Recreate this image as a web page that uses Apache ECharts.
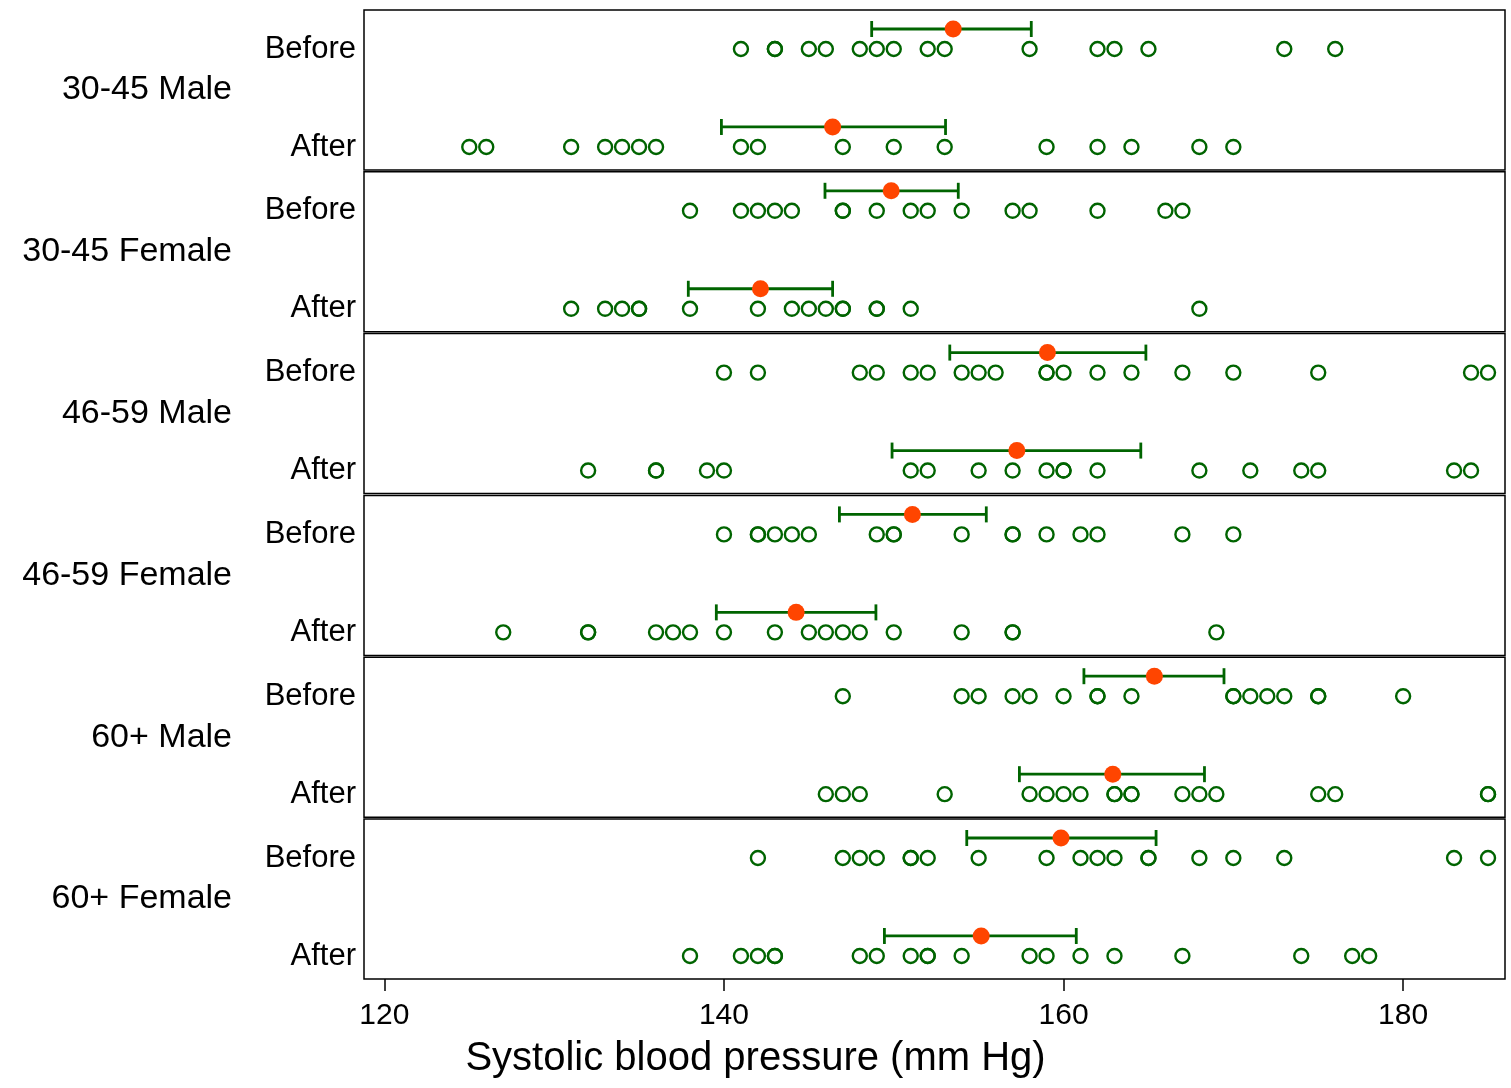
<!DOCTYPE html>
<html><head><meta charset="utf-8">
<script src="https://cdn.jsdelivr.net/npm/echarts@6/dist/echarts.min.js"></script>
<style>html,body{margin:0;padding:0;background:#fff}#c{width:1511px;height:1088px}</style>
</head><body><div id="c"></div>
<script>
// ---------- data ----------
const groups = ['30-45 Male', '30-45 Female', '46-59 Male', '46-59 Female', '60+ Male', '60+ Female'];
const rowLabels = ['After', 'Before'];
const xTicks = [120, 140, 160, 180];
const xTitle = 'Systolic blood pressure (mm Hg)';

const beforeVals = [
  [141,143,143,145,146,148,149,150,152,153,158,162,163,165,173,176],
  [138,141,142,143,144,147,147,149,151,152,154,157,158,162,166,167],
  [140,142,148,149,151,152,154,155,156,159,159,160,162,164,167,170,175,184,185],
  [140,142,142,143,144,145,149,150,150,154,157,157,159,161,162,167,170],
  [147,154,155,157,158,160,162,162,164,170,170,171,172,173,175,175,180],
  [142,147,148,149,151,151,152,155,159,161,162,163,165,165,168,170,173,183,185]
];
const afterVals = [
  [125,126,131,133,134,135,136,141,142,147,150,153,159,162,164,168,170],
  [131,133,134,135,135,138,142,144,145,146,147,147,149,149,151,168],
  [132,136,136,139,140,151,152,155,157,159,160,160,162,168,171,174,175,183,184],
  [127,132,132,136,137,138,140,143,145,146,147,148,150,154,157,157,169],
  [146,147,148,153,158,159,160,161,163,163,164,164,167,168,169,175,176,185,185],
  [138,141,142,143,143,148,149,151,152,152,154,158,159,161,163,167,174,177,178]
];
const beforeMean = [153.5, 149.85, 159.05, 151.1, 165.35, 159.85];
const beforeLo   = [148.7, 145.95, 153.3, 146.8, 161.2, 154.3];
const beforeHi   = [158.1, 153.8, 164.85, 155.45, 169.45, 165.45];
const afterMean  = [146.4, 142.15, 157.25, 144.25, 162.9, 155.15];
const afterLo    = [139.85, 137.9, 149.9, 139.55, 157.4, 149.45];
const afterHi    = [153.05, 146.4, 164.55, 148.95, 168.3, 160.75];

// ---------- layout ----------
const GREEN = '#006400', RED = '#FF4500';
const FONT = 'Liberation Sans, Arial, sans-serif';
const top0 = 10, step = 161.8, panelH = 160;
const X_MIN = 118.8, X_MAX = 186.0;
const Y_MIN = -0.235, Y_MAX = 1.398;
const CI_UP = 20;

const grids = [], xAxes = [], yAxes = [], series = [];
groups.forEach((g, i) => {
  const last = i === groups.length - 1;
  grids.push({left: 364, right: 6, top: top0 + i * step, height: panelH,
    show: true, borderColor: '#000', borderWidth: 1.5, backgroundColor: '#fff'});
  xAxes.push({type: 'value', gridIndex: i, min: X_MIN, max: X_MAX, position: 'bottom',
    axisLine: {show: false, onZero: false}, splitLine: {show: false},
    axisTick: {show: last, customValues: xTicks, length: 12, lineStyle: {color: '#000', width: 1.5}},
    axisLabel: {show: last, customValues: xTicks, fontSize: 30, margin: 22, color: '#000', fontFamily: FONT}
  });
  yAxes.push({type: 'value', gridIndex: i, min: Y_MIN, max: Y_MAX,
    axisLine: {show: false, onZero: false}, axisTick: {show: false}, splitLine: {show: false},
    axisLabel: {customValues: [0, 1], formatter: v => rowLabels[Math.round(v)],
      fontSize: 31, margin: 8, color: '#000', fontFamily: FONT}
  });
  yAxes.push({type: 'category', gridIndex: i, data: [g], position: 'left', offset: 124,
    axisLine: {show: false, onZero: false}, axisTick: {show: false}, splitLine: {show: false},
    axisLabel: {fontSize: 34, margin: 8, color: '#000', fontFamily: FONT}
  });
  const dotStyle = {color: 'transparent', borderColor: GREEN, borderWidth: 2.4, opacity: 1};
  series.push({type: 'scatter', xAxisIndex: i, yAxisIndex: 2 * i, symbol: 'circle', symbolSize: 14,
    itemStyle: dotStyle, data: beforeVals[i].map(v => [v, 1]), z: 2});
  series.push({type: 'scatter', xAxisIndex: i, yAxisIndex: 2 * i, symbol: 'circle', symbolSize: 14,
    itemStyle: dotStyle, data: afterVals[i].map(v => [v, 0]), z: 2});
  series.push({type: 'custom', xAxisIndex: i, yAxisIndex: 2 * i, z: 3,
    encode: {x: [0, 1], y: 2},
    data: [[beforeLo[i], beforeHi[i], 1], [afterLo[i], afterHi[i], 0]],
    renderItem: function (params, api) {
      const y = api.value(2);
      const a = api.coord([api.value(0), y]);
      const b = api.coord([api.value(1), y]);
      const yy = a[1] - CI_UP;
      const st = {stroke: GREEN, lineWidth: 2.8};
      return {type: 'group', children: [
        {type: 'line', shape: {x1: a[0], y1: yy, x2: b[0], y2: yy}, style: st},
        {type: 'line', shape: {x1: a[0], y1: yy - 8, x2: a[0], y2: yy + 8}, style: st},
        {type: 'line', shape: {x1: b[0], y1: yy - 8, x2: b[0], y2: yy + 8}, style: st}
      ]};
    }
  });
  series.push({type: 'scatter', xAxisIndex: i, yAxisIndex: 2 * i, symbol: 'circle', symbolSize: 17,
    symbolOffset: [0, -CI_UP], itemStyle: {color: RED, opacity: 1}, z: 4,
    data: [[beforeMean[i], 1], [afterMean[i], 0]]});
});

const chart = echarts.init(document.getElementById('c'), null, {renderer: 'canvas'});
chart.setOption({
  animation: false,
  backgroundColor: '#fff',
  title: {text: xTitle, left: 'center', top: 1034,
    textStyle: {fontSize: 40, fontWeight: 'normal', color: '#000', fontFamily: FONT}},
  grid: grids, xAxis: xAxes, yAxis: yAxes, series: series
});
</script></body></html>
